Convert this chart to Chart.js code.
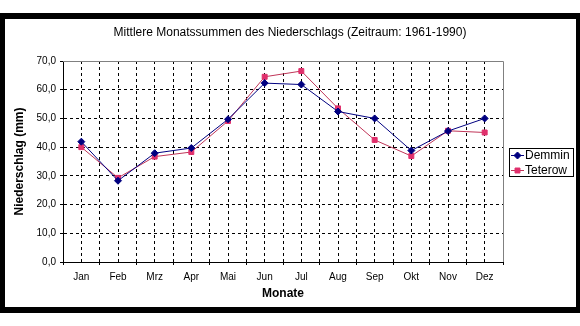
<!DOCTYPE html>
<html lang="de">
<head>
<meta charset="utf-8">
<title>Niederschlag Demmin / Teterow</title>
<script src="https://cdn.jsdelivr.net/npm/chart.js@4.4.1/dist/chart.umd.min.js"></script>
<style>
    html, body { margin: 0; padding: 0; background: #fff; }
    #wrap { position: relative; width: 580px; height: 326px; }
    #chart { position: absolute; left: 0; top: 0; }
    #frame {
        position: absolute; left: 0; top: 13px; width: 580px; height: 300px;
        box-sizing: border-box; border: 6px solid #000; border-left-width: 5px; border-right-width: 4px;
        pointer-events: none;
    }
</style>
</head>
<body>
<div id="wrap">
    <canvas id="chart" width="580" height="326"></canvas>
    <div id="frame"></div>
</div>
<script>
// Mittlere Monatssummen des Niederschlags 1961-1990, Demmin und Teterow
var months = ['Jan', 'Feb', 'Mrz', 'Apr', 'Mai', 'Jun', 'Jul', 'Aug', 'Sep', 'Okt', 'Nov', 'Dez'];
var demmin = [41.9, 28.3, 37.9, 39.7, 49.7, 62.3, 61.8, 52.4, 50.0, 38.8, 45.6, 50.0];
var teterow = [40.0, 29.3, 36.7, 38.3, 49.1, 64.5, 66.5, 53.5, 42.5, 36.9, 45.7, 45.1];
var yTicks = [0, 10, 20, 30, 40, 50, 60, 70];

var FONT = 'Arial, "Liberation Sans", sans-serif';
var TRANSPARENT = 'rgba(0,0,0,0)';

function toPoints(values) {
    return values.map(function (v, i) { return { x: i, y: v }; });
}

function fmt(v) {
    return v.toFixed(1).replace('.', ',');
}

// Titel, grauer Rahmen oben/rechts und Legende im Stil der Vorlage
var decorations = {
    id: 'decorations',
    beforeDatasetsDraw: function (chart) {
        var ctx = chart.ctx, a = chart.chartArea;
        ctx.save();
        ctx.strokeStyle = '#808080';
        ctx.lineWidth = 1;
        ctx.beginPath();
        ctx.moveTo(a.left, a.top + 0.5);
        ctx.lineTo(a.right + 0.5, a.top + 0.5);
        ctx.lineTo(a.right + 0.5, a.bottom);
        ctx.stroke();
        ctx.restore();
    },
    afterDraw: function (chart) {
        var ctx = chart.ctx;
        ctx.save();
        ctx.fillStyle = '#000';
        ctx.font = '12px ' + FONT;
        ctx.textAlign = 'center';
        ctx.textBaseline = 'middle';
        ctx.fillText('Mittlere Monatssummen des Niederschlags (Zeitraum: 1961-1990)', 290, 33);

        // Legende
        var lx = 509, ly = 148, lw = 64, lh = 28;
        ctx.fillStyle = '#fff';
        ctx.fillRect(lx, ly, lw, lh);
        ctx.strokeStyle = '#000';
        ctx.lineWidth = 1;
        ctx.strokeRect(lx + 0.5, ly + 0.5, lw, lh);

        chart.data.datasets.forEach(function (ds, i) {
            var y = ly + 7.5 + i * 15;
            ctx.strokeStyle = ds.borderColor;
            ctx.lineWidth = 1;
            ctx.beginPath();
            ctx.moveTo(lx + 2, y);
            ctx.lineTo(lx + 15, y);
            ctx.stroke();
            ctx.fillStyle = ds.pointBackgroundColor;
            ctx.strokeStyle = ds.pointBorderColor;
            Chart.helpers.drawPoint(ctx, {
                pointStyle: ds.pointStyle, radius: ds.pointRadius, borderWidth: 1, rotation: 0
            }, lx + 8.5, y);
            ctx.fillStyle = '#000';
            ctx.font = '12px ' + FONT;
            ctx.textAlign = 'left';
            ctx.textBaseline = 'middle';
            ctx.fillText(ds.label, lx + 16, y + 0.5);
        });
        ctx.restore();
    }
};

new Chart(document.getElementById('chart'), {
    type: 'line',
    data: {
        datasets: [{
            label: 'Demmin',
            data: toPoints(demmin),
            borderColor: '#000080',
            borderWidth: 1,
            pointStyle: 'rectRot',
            pointRadius: 3.5,
            pointBackgroundColor: '#000080',
            pointBorderColor: '#000080',
            pointBorderWidth: 1,
            tension: 0
        }, {
            label: 'Teterow',
            data: toPoints(teterow),
            borderColor: '#c03558',
            borderWidth: 1,
            pointStyle: 'rect',
            pointRadius: 3.5,
            pointBackgroundColor: '#e0306c',
            pointBorderColor: '#e0306c',
            pointBorderWidth: 1,
            tension: 0
        }]
    },
    options: {
        responsive: false,
        animation: false,
        devicePixelRatio: 1,
        layout: { padding: { top: 61, right: 77, left: 0, bottom: 0 } },
        plugins: {
            legend: { display: false },
            title: { display: false },
            tooltip: { enabled: false }
        },
        scales: {
            x: {
                type: 'linear',
                min: -0.5,
                max: 11.5,
                afterFit: function (scale) { scale.height = 64; },
                afterBuildTicks: function (scale) {
                    var t = [];
                    for (var i = 0; i <= months.length * 2; i++) t.push({ value: -0.5 + i * 0.5 });
                    scale.ticks = t;
                },
                ticks: {
                    autoSkip: false,
                    maxRotation: 0,
                    padding: 6,
                    color: '#000',
                    font: { family: FONT, size: 10 },
                    callback: function (v) { return Number.isInteger(v) ? months[v] : ''; }
                },
                grid: {
                    color: function (c) {
                        var v = c.tick && c.tick.value;
                        return (v === -0.5 || v === 11.5) ? TRANSPARENT : '#000';
                    },
                    tickColor: function (c) {
                        return (c.tick && Number.isInteger(c.tick.value)) ? TRANSPARENT : '#000';
                    },
                    tickLength: 3,
                    lineWidth: 1
                },
                border: { display: true, color: '#000', width: 1, dash: [3, 3] },
                title: {
                    display: true,
                    text: 'Monate',
                    color: '#000',
                    font: { family: FONT, size: 12, weight: 'bold' },
                    padding: { top: 0, bottom: 25 }
                }
            },
            y: {
                min: 0,
                max: 70,
                afterFit: function (scale) { scale.width = 63; },
                afterBuildTicks: function (scale) {
                    scale.ticks = yTicks.map(function (v) { return { value: v }; });
                },
                ticks: {
                    padding: 4,
                    color: '#000',
                    font: { family: FONT, size: 10 },
                    callback: function (v) { return fmt(v); }
                },
                grid: {
                    color: function (c) {
                        var v = c.tick && c.tick.value;
                        return (v === 0 || v === 70) ? TRANSPARENT : '#000';
                    },
                    tickColor: '#000',
                    tickLength: 3,
                    lineWidth: 1
                },
                border: { display: true, color: '#000', width: 1, dash: [3, 3] },
                title: {
                    display: true,
                    text: 'Niederschlag (mm)',
                    color: '#000',
                    font: { family: FONT, size: 12, weight: 'bold' },
                    padding: { top: 12, bottom: 0 }
                }
            }
        }
    },
    plugins: [decorations]
});
</script>
</body>
</html>
